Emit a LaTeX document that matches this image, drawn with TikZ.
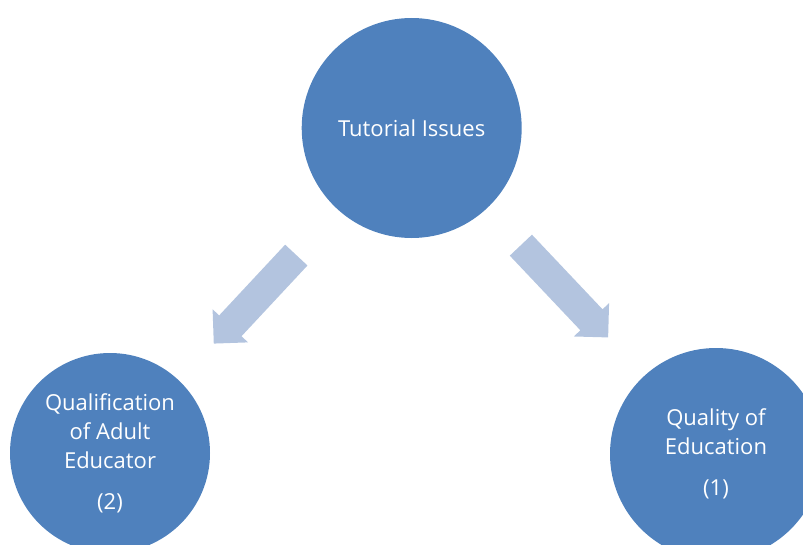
\documentclass[tikz,border=0pt]{standalone}
\usepackage{fontspec}
\setmainfont{Open Sans}
\usepackage{tikz}
\usetikzlibrary{shapes.arrows}
\definecolor{topicblue}{RGB}{79,129,189}
\definecolor{flowblue}{RGB}{179,196,223}
\tikzstyle{topic} = [circle, fill=topicblue, text=white, align=center,
                     inner sep=0pt, font=\fontsize{16.5}{21.75}\selectfont]
\tikzstyle{flow}  = [single arrow, fill=flowblue, inner xsep=0pt, inner ysep=11.25pt,
                     single arrow head extend=6.75pt, single arrow tip angle=90,
                     single arrow head indent=0pt]
\begin{document}
\begin{tikzpicture}[x=0.75pt, y=0.75pt]
		\useasboundingbox (0,0) rectangle (803,544);

		\node[topic, minimum size=165pt] (issues) at (411.7,416) {Tutorial Issues};
		\node[topic, minimum size=150pt] (adult) at (110,91) {Qualification\\of Adult\\Educator\\[9pt](2)};
		\node[topic, minimum size=159pt] (quality) at (716,90) {Quality of\\Education\\[9pt](1)};

		% block arrows between the circles
		\node[flow, minimum height=90.75pt, rotate=-133] (toadult) at (260.25,250.25) {};
		\node[flow, minimum height=95.25pt, rotate=-46.6] (toquality) at (559.25,258.25) {};
	\end{tikzpicture}
\end{document}
